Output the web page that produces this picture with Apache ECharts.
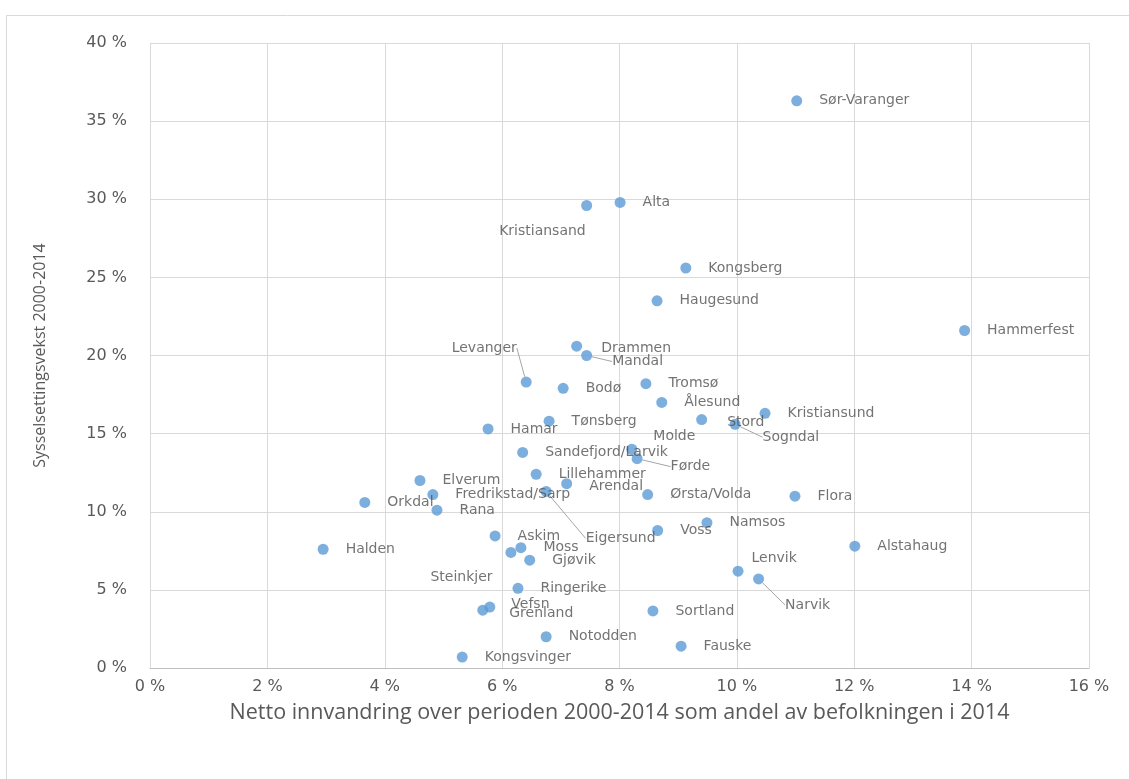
<!DOCTYPE html>
<html>
<head>
<meta charset="utf-8">
<script src="https://cdn.jsdelivr.net/npm/echarts@6/dist/echarts.min.js"></script>
<style>
  html, body { margin: 0; padding: 0; background: #fff; }
  #chart { width: 1129px; height: 779px; }
</style>
</head>
<body>
<div id="chart"></div>
<script>
// kommuner / regioner
const names = [
  'Sør-Varanger', 'Alta', 'Kristiansand', 'Kongsberg', 'Haugesund', 'Hammerfest',
  'Drammen', 'Mandal', 'Levanger', 'Bodø', 'Tromsø', 'Ålesund', 'Kristiansund',
  'Stord', 'Sogndal', 'Tønsberg', 'Hamar', 'Sandefjord/Larvik', 'Molde', 'Førde',
  'Lillehammer', 'Arendal', 'Eigersund', 'Fredrikstad/Sarp', 'Elverum', 'Orkdal',
  'Rana', 'Ørsta/Volda', 'Flora', 'Voss', 'Namsos', 'Askim', 'Moss', 'Gjøvik',
  'Steinkjer', 'Ringerike', 'Vefsn', 'Grenland', 'Halden', 'Alstahaug', 'Lenvik',
  'Narvik', 'Sortland', 'Notodden', 'Fauske', 'Kongsvinger'
];
// netto innvandring 2000-2014, % av befolkningen 2014
const innvandring = [
  11.02, 8.01, 7.44, 9.13, 8.64, 13.88,
  7.27, 7.44, 6.41, 7.04, 8.45, 8.72, 10.48,
  9.40, 9.97, 6.80, 5.76, 6.35, 8.21, 8.30,
  6.58, 7.10, 6.75, 4.82, 4.60, 3.66,
  4.89, 8.48, 10.99, 8.65, 9.49, 5.88, 6.32, 6.47,
  6.15, 6.27, 5.79, 5.67, 2.95, 12.01, 10.02,
  10.37, 8.57, 6.75, 9.05, 5.32
];
// sysselsettingsvekst 2000-2014, %
const sysselsetting = [
  36.3, 29.8, 29.6, 25.6, 23.5, 21.6,
  20.6, 20.0, 18.3, 17.9, 18.2, 17.0, 16.3,
  15.9, 15.6, 15.8, 15.3, 13.8, 14.0, 13.4,
  12.4, 11.8, 11.3, 11.1, 12.0, 10.6,
  10.1, 11.1, 11.0, 8.8, 9.3, 8.45, 7.7, 6.9,
  7.4, 5.1, 3.9, 3.7, 7.6, 7.8, 6.2,
  5.7, 3.65, 2.0, 1.4, 0.7
];

// labels that Excel moved away from the default right-hand spot
const moved = {
  'Kristiansand': [-110, 26],
  'Drammen': [2, 2],
  'Mandal': [3, 6],
  'Levanger': [-97, -34],
  'Stord': [3, 3],
  'Sogndal': [5, 13],
  'Molde': [-1, -13],
  'Førde': [11, 8],
  'Arendal': [0, 3],
  'Eigersund': [17, 47],
  'Steinkjer': [-103, 25],
  'Vefsn': [-1, -3],
  'Grenland': [4, 3],
  'Lenvik': [-9, -13],
  'Narvik': [4, 26]
};
const withLine = ['Mandal', 'Levanger', 'Sogndal', 'Førde', 'Eigersund', 'Narvik'];

const points = names.map((n, i) => {
  const item = { name: n, value: [innvandring[i], sysselsetting[i]] };
  if (withLine.indexOf(n) >= 0) {
    item.labelLine = { show: true };
  }
  return item;
});

const chart = echarts.init(document.getElementById('chart'));
chart.setOption({
  animation: false,
  backgroundColor: '#fff',
  graphic: [{
    type: 'rect',
    left: 4, top: 13,
    shape: { width: 1200, height: 800 },
    style: { fill: 'none', stroke: '#d9d9d9', lineWidth: 1 },
    silent: true
  }],
  grid: { left: 150, right: 40, top: 43, bottom: 111 },
  xAxis: {
    type: 'value',
    min: 0, max: 16, interval: 2,
    name: 'Netto innvandring over perioden 2000-2014 som andel av befolkningen i 2014',
    nameLocation: 'middle',
    nameGap: 34,
    nameTextStyle: { color: '#595959', fontSize: 21.5, fontFamily: 'Open Sans' },
    axisLine: { show: true, lineStyle: { color: '#bfbfbf' } },
    axisTick: { show: false },
    axisLabel: { formatter: '{value} %', color: '#595959', fontSize: 16, margin: 11, fontFamily: 'DejaVu Sans' },
    splitLine: { show: true, lineStyle: { color: '#d9d9d9' } }
  },
  yAxis: {
    type: 'value',
    min: 0, max: 40, interval: 5,
    name: 'Sysselsettingsvekst 2000-2014',
    nameLocation: 'middle',
    nameGap: 102,
    nameTextStyle: { color: '#595959', fontSize: 16, fontFamily: 'Open Sans' },
    axisLine: { show: false },
    axisTick: { show: false },
    axisLabel: { formatter: '{value} %', color: '#595959', fontSize: 16, margin: 23, fontFamily: 'DejaVu Sans' },
    splitLine: { show: true, lineStyle: { color: '#d9d9d9' } }
  },
  series: [{
    type: 'scatter',
    symbolSize: 11,
    itemStyle: { color: '#5b9bd5' },
    data: points,
    label: {
      show: true,
      position: 'right',
      distance: 17,
      formatter: '{b}',
      color: '#505050',
      fontSize: 14,
      fontFamily: 'DejaVu Sans'
    },
    labelLine: { show: false, lineStyle: { color: '#a6a6a6', width: 1 } },
    labelLayout: function (params) {
      const o = moved[names[params.dataIndex]];
      return o ? { dx: o[0], dy: o[1] } : {};
    }
  }]
});
</script>
</body>
</html>
